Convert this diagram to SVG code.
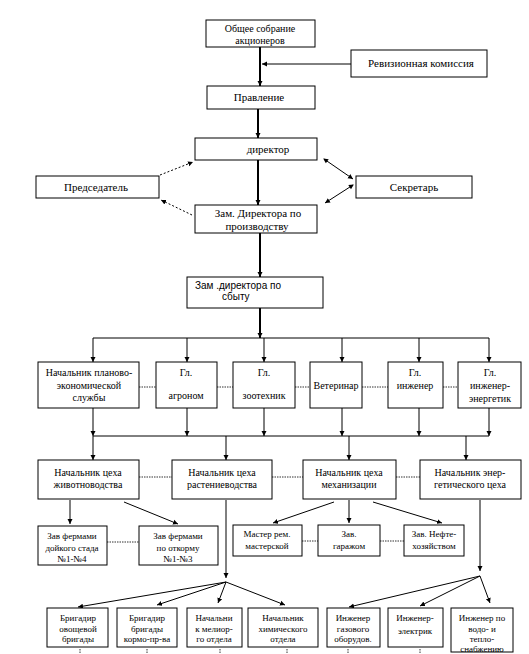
<svg xmlns="http://www.w3.org/2000/svg" width="529" height="654" viewBox="0 0 529 654" font-family="'Liberation Serif', 'DejaVu Serif', serif">
<defs>
<marker id="ah" markerUnits="userSpaceOnUse" markerWidth="6" markerHeight="6" refX="5" refY="3" orient="auto">
<path d="M0,0.5 L5,3 L0,5.5 z" fill="#000"/>
</marker>
<marker id="as" markerUnits="userSpaceOnUse" markerWidth="6" markerHeight="6" refX="1" refY="3" orient="auto">
<path d="M5,0.5 L0,3 L5,5.5 z" fill="#000"/>
</marker>
<style>
.b{fill:#fff;stroke:#000;stroke-width:1}
.t{font-size:10px;fill:#000;text-anchor:middle}
.tl{font-size:11px;fill:#000;text-anchor:middle}
.ts{font-size:9px;fill:#000;text-anchor:middle}
.ln{stroke:#000;stroke-width:1;fill:none}
.th{stroke:#000;stroke-width:2;fill:none}
.d{stroke:#000;stroke-width:1;fill:none;stroke-dasharray:2,2}
.dd{stroke:#333;stroke-width:1;fill:none;stroke-dasharray:1.5,1}
.a{marker-end:url(#ah)}
</style>
</defs>
<rect width="529" height="654" fill="#fff"/>
<g id="connectors">
<path class="th a" d="M260,47 V86"/>
<path class="ln a" d="M351,64 H262"/>
<path class="th a" d="M258,109 V138"/>
<path class="th a" d="M258,160 V205"/>
<path class="d a" d="M160,175 L193,162"/>
<path class="d a" d="M192,215 L161,200"/>
<path class="ln a" d="M324,159 L353,179" marker-start="url(#as)"/>
<path class="ln a" d="M353,185 L325,203" marker-start="url(#as)"/>
<path class="th a" d="M260,233 V277"/>
<path class="th a" d="M260,308 V338"/>
<path class="ln" d="M93,338 H489"/>
<path class="ln a" d="M93,338 V362"/>
<path class="ln a" d="M187,338 V362"/>
<path class="ln a" d="M264,338 V362"/>
<path class="ln a" d="M342,338 V362"/>
<path class="ln a" d="M419,338 V362"/>
<path class="ln a" d="M489,338 V362"/>
<path class="dd" d="M139,387 H156 M217,387 H233 M295,387 H310 M362,387 H388 M443,387 H458"/>
<path class="ln a" d="M93,408 V436"/>
<path class="ln a" d="M187,408 V436"/>
<path class="ln a" d="M264,408 V436"/>
<path class="ln a" d="M342,408 V436"/>
<path class="ln a" d="M419,408 V436"/>
<path class="ln a" d="M489,408 V436"/>
<path class="ln" d="M93,436 H489"/>
<path class="ln a" d="M93,436 V460"/>
<path class="ln a" d="M226,436 V460"/>
<path class="ln a" d="M349,436 V460"/>
<path class="ln a" d="M466,436 V460"/>
<path class="dd" d="M139,477 H172 M272,477 H303 M396,477 H420"/>
<path class="ln a" d="M70,500 V524"/>
<path class="ln a" d="M124,502 L178,524"/>
<path class="ln a" d="M334,502 L273,523"/>
<path class="ln a" d="M349,500 V523"/>
<path class="ln a" d="M373,502 L442,523"/>
<path class="dd" d="M107,542 H139 M302,541 H318 M380,541 H404"/>
<path class="ln a" d="M226,500 V578"/>
<path class="ln a" d="M226,582 L78,607"/>
<path class="ln a" d="M226,582 L157,605"/>
<path class="ln a" d="M226,582 L218,603"/>
<path class="ln a" d="M226,582 L285,605"/>
<path class="ln a" d="M480,500 V571"/>
<path class="ln a" d="M480,576 L349,607"/>
<path class="ln a" d="M480,576 L420,606"/>
<path class="ln a" d="M480,576 L490,603"/>
<path class="dd" d="M80,649 V654 M147,649 V654 M220,649 V654 M287,649 V654 M348,649 V654 M420,649 V654"/>
</g>
<g id="n1"><rect class="b" x="206" y="20" width="109" height="27"/><text class="t" x="260" y="32">Общее собрание</text><text class="t" x="260" y="44">акционеров</text></g>
<g id="n2"><rect class="b" x="351" y="50" width="136" height="27"/><text class="tl" x="421" y="67">Ревизионная комиссия</text></g>
<g id="n3"><rect class="b" x="207" y="86" width="108" height="23"/><text class="tl" x="259" y="101">Правление</text></g>
<g id="n4"><rect class="b" x="195" y="138" width="122" height="22"/><text class="tl" x="268" y="153">директор</text></g>
<g id="n5"><rect class="b" x="36" y="176" width="123" height="22"/><text class="tl" x="96" y="191">Председатель</text></g>
<g id="n6"><rect class="b" x="356" y="176" width="116" height="22"/><text class="tl" x="414" y="191">Секретарь</text></g>
<g id="n7"><rect class="b" x="195" y="205" width="122" height="28"/><text class="tl" x="258" y="217">Зам. Директора по</text><text class="tl" x="257" y="230">производству</text></g>
<g id="n8"><rect class="b" x="187" y="277" width="136" height="31"/><text font-family="'Liberation Sans', Arial, sans-serif" font-size="10" x="195" y="289">Зам .директора по</text><text font-family="'Liberation Sans', Arial, sans-serif" font-size="10" x="222" y="300">сбыту</text></g>
<g id="n9"><rect class="b" x="38" y="362" width="101" height="46"/><text class="t" x="89" y="376">Начальник планово-</text><text class="t" x="89" y="389">экономической</text><text class="t" x="89" y="401">службы</text></g>
<g id="n10"><rect class="b" x="156" y="362" width="61" height="46"/><text class="t" x="186" y="376">Гл.</text><text class="t" x="186" y="399">агроном</text></g>
<g id="n11"><rect class="b" x="233" y="362" width="62" height="46"/><text class="t" x="264" y="376">Гл.</text><text class="t" x="264" y="399">зоотехник</text></g>
<g id="n12"><rect class="b" x="310" y="362" width="52" height="46"/><text class="t" x="336" y="389">Ветеринар</text></g>
<g id="n13"><rect class="b" x="388" y="362" width="55" height="46"/><text class="t" x="415" y="376">Гл.</text><text class="t" x="415" y="389">инженер</text></g>
<g id="n14"><rect class="b" x="458" y="362" width="63" height="46"/><text class="t" x="490" y="376">Гл.</text><text class="t" x="490" y="389">инженер-</text><text class="t" x="490" y="402">энергетик</text></g>
<g id="n15"><rect class="b" x="38" y="460" width="101" height="39"/><text class="t" x="88" y="476">Начальник цеха</text><text class="t" x="88" y="488">животноводства</text></g>
<g id="n16"><rect class="b" x="172" y="460" width="100" height="39"/><text class="t" x="222" y="476">Начальник цеха</text><text class="t" x="222" y="488">растениеводства</text></g>
<g id="n17"><rect class="b" x="303" y="460" width="93" height="39"/><text class="t" x="349" y="476">Начальник цеха</text><text class="t" x="349" y="488">механизации</text></g>
<g id="n18"><rect class="b" x="420" y="460" width="101" height="39"/><text class="t" x="470" y="476">Начальник энер-</text><text class="t" x="470" y="488">гетического цеха</text></g>
<g id="n19"><rect class="b" x="38" y="526" width="69" height="39"/><text class="ts" x="72" y="539">Зав фермами</text><text class="ts" x="72" y="551">дойкого стада</text><text class="ts" x="72" y="562">№1-№4</text></g>
<g id="n20"><rect class="b" x="139" y="526" width="79" height="39"/><text class="ts" x="178" y="539">Зав фермами</text><text class="ts" x="178" y="551">по откорму</text><text class="ts" x="178" y="562">№1-№3</text></g>
<g id="n21"><rect class="b" x="233" y="525" width="69" height="31"/><text class="ts" x="267" y="537">Мастер рем.</text><text class="ts" x="267" y="549">мастерской</text></g>
<g id="n22"><rect class="b" x="318" y="525" width="62" height="31"/><text class="ts" x="349" y="537">Зав.</text><text class="ts" x="349" y="549">гаражом</text></g>
<g id="n23"><rect class="b" x="404" y="525" width="60" height="31"/><text class="ts" x="434" y="537">Зав. Нефте-</text><text class="ts" x="434" y="549">хозяйством</text></g>
<g id="n24"><rect class="b" x="47" y="608" width="61" height="39"/><text class="ts" x="78" y="621">Бригадир</text><text class="ts" x="78" y="632">овощевой</text><text class="ts" x="78" y="642">бригады</text></g>
<g id="n25"><rect class="b" x="117" y="608" width="60" height="39"/><text class="ts" x="147" y="621">Бригадир</text><text class="ts" x="147" y="632">бригады</text><text class="ts" x="147" y="642">кормо-пр-ва</text></g>
<g id="n26"><rect class="b" x="187" y="608" width="55" height="39"/><text class="ts" x="214" y="621">Начальни</text><text class="ts" x="214" y="632">к мелиор-</text><text class="ts" x="214" y="642">го отдела</text></g>
<g id="n27"><rect class="b" x="248" y="608" width="70" height="39"/><text class="ts" x="283" y="621">Начальник</text><text class="ts" x="283" y="632">химического</text><text class="ts" x="283" y="642">отдела</text></g>
<g id="n28"><rect class="b" x="327" y="608" width="53" height="39"/><text class="ts" x="353" y="621">Инженер</text><text class="ts" x="353" y="632">газового</text><text class="ts" x="353" y="642">оборудов.</text></g>
<g id="n29"><rect class="b" x="388" y="608" width="55" height="39"/><text class="ts" x="415" y="621">Инженер-</text><text class="ts" x="415" y="634">электрик</text></g>
<g id="n30"><rect class="b" x="451" y="608" width="62" height="44"/><text class="ts" x="482" y="621">Инженер по</text><text class="ts" x="482" y="632">водо- и</text><text class="ts" x="482" y="642">тепло-</text><text class="ts" x="482" y="652">снабжению</text></g>
</svg>
